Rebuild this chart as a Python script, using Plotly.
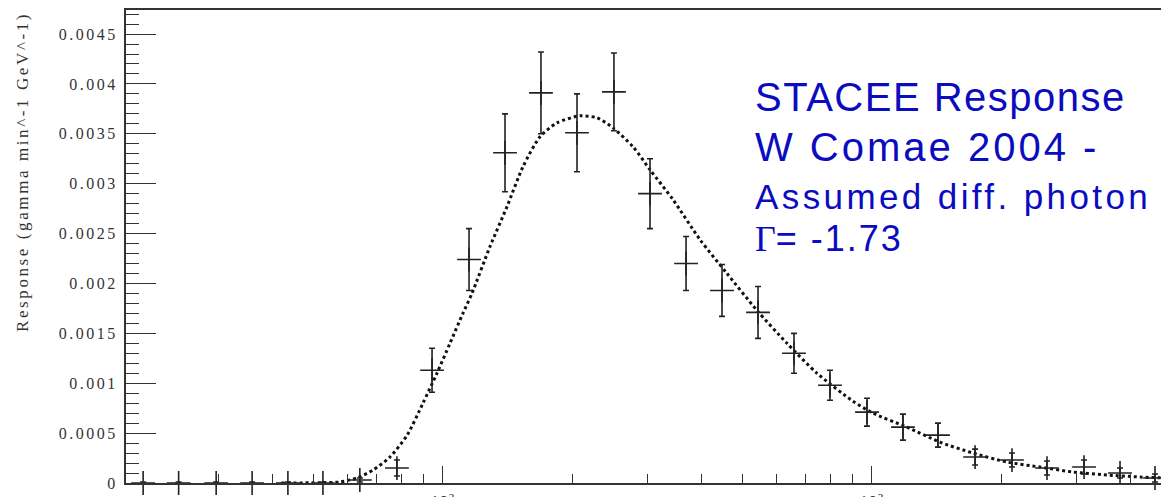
import plotly.graph_objects as go

# Binned response (events per minute per GeV) with statistical errors
energy_gev = [20.0, 24.2, 29.6, 35.9, 43.5, 52.5, 64.0, 78.1, 94.3, 115.0,
              139.5, 169.2, 205.3, 250.3, 303.8, 368.6, 447.1, 542.4, 658.0,
              798.1, 973.5, 1181, 1425, 1739, 2120, 2558, 3121, 3786, 4568]
response = [0.0, 0.0, 0.0, 0.0, 0.0, 0.0, 0.00003, 0.00015, 0.00113, 0.00224,
            0.00331, 0.00391, 0.00351, 0.00392, 0.00290, 0.00220, 0.00193,
            0.00171, 0.00130, 0.00098, 0.00071, 0.00056, 0.00048, 0.00026,
            0.00023, 0.00015, 0.00016, 0.00010, 0.00005]
response_err = [0.00001, 0.00001, 0.00001, 0.00001, 0.00001, 0.00001, 0.00002,
                 0.00008, 0.00022, 0.00031, 0.00039, 0.00041, 0.00039, 0.00039,
                 0.00035, 0.00027, 0.00026, 0.00026, 0.00020, 0.00015, 0.00014,
                 0.00013, 0.00012, 0.00008, 0.00007, 0.00007, 0.00007, 0.00005,
                 0.00004]

# Fitted response curve
fit_energy_gev = [42.0, 51.7, 57.5, 63.0, 68.7, 75.2, 82.5, 89.8, 96.8, 103.8,
                  111.3, 116.8, 128.7, 141.0, 153.6, 168.3, 184.4, 208.6, 228.6,
                  249.0, 277.3, 303.8, 343.7, 397.2, 459.2, 539.4, 633.8, 744.5,
                  903.0, 1005, 1206, 1440, 1720, 2064, 2464, 2941, 3530, 4214,
                  4820]
fit_response = [0.0, 0.000003, 0.00001, 0.00005, 0.00013, 0.00026, 0.00048,
                0.0008, 0.0011, 0.0014, 0.0017, 0.0019, 0.00237, 0.00277,
                0.00317, 0.00347, 0.00361, 0.00368, 0.00366, 0.00356, 0.00337,
                0.00314, 0.00284, 0.00244, 0.00210, 0.00173, 0.00140, 0.00110,
                0.00082, 0.00070, 0.00056, 0.00041, 0.00030, 0.00021, 0.00016,
                0.00011, 0.00008, 0.00006, 0.00005]

y_tick_values = [0, 0.0005, 0.001, 0.0015, 0.002, 0.0025, 0.003, 0.0035, 0.004, 0.0045]
y_tick_labels = ["0", "0.0005", "0.001", "0.0015", "0.002", "0.0025", "0.003",
                 "0.0035", "0.004", "0.0045"]
x_tick_values = [100, 1000]
x_tick_labels = ["10<sup>2</sup>", "10<sup>3</sup>"]

y_title = "Response (gamma min^-1 GeV^-1)"
note_lines = ["STACEE Response", "W Comae 2004 -", "Assumed diff. photon", "= -1.73"]

INK = "#222222"
BLUE = "#0b0bbf"
SERIF = "Liberation Serif, Times New Roman, serif"
SANS = "Liberation Sans, Arial, sans-serif"

x_minor = [m * 10 ** k for k in (1, 2, 3) for m in range(2, 10)]


def spaced(text, px):
    return f'<span style="letter-spacing:{px}px">{text}</span>'


fig = go.Figure()

fig.add_trace(go.Scatter(
    x=fit_energy_gev, y=fit_response, mode="lines",
    line=dict(color="#111111", width=3, dash="3px,3px", shape="spline", smoothing=0.7),
    hoverinfo="skip", cliponaxis=True,
))

fig.add_trace(go.Scatter(
    x=energy_gev, y=response, mode="markers",
    marker=dict(symbol="cross-thin", size=17, line=dict(color=INK, width=1.6), color=INK),
    error_y=dict(type="data", array=response_err, visible=True,
                 color=INK, thickness=1.6, width=3),
    cliponaxis=False,
))

fig.update_layout(
    width=1161, height=497,
    margin=dict(l=126, r=0, t=10, b=14, pad=0),
    paper_bgcolor="white", plot_bgcolor="white",
    showlegend=False,
    font=dict(family=SERIF, color=INK),
)

fig.update_xaxes(
    type="log", range=[1.2611, 3.6737],
    showgrid=False, zeroline=False,
    showline=True, linecolor="#333333", linewidth=2.4, mirror=True,
    ticks="inside", ticklen=17, tickwidth=1.4, tickcolor="#333333",
    tickmode="array", tickvals=x_tick_values,
    ticktext=[spaced(t, 1) for t in x_tick_labels],
    tickfont=dict(family=SERIF, size=16, color=INK),
    ticklabelstandoff=3,
    minor=dict(tickmode="array", tickvals=x_minor, ticks="inside",
               ticklen=9, tickwidth=1.2, tickcolor="#333333"),
    automargin=False,
)

fig.update_yaxes(
    range=[0, 0.004741],
    showgrid=False, zeroline=False,
    showline=True, linecolor="#333333", linewidth=2, mirror=False,
    ticks="inside", ticklen=30, tickwidth=1.4, tickcolor="#333333",
    tickmode="array", tickvals=y_tick_values,
    ticktext=[spaced(t, 2.5) for t in y_tick_labels],
    tickfont=dict(family=SERIF, size=16, color="#333333"),
    ticklabelstandoff=3,
    minor=dict(dtick=0.0001, tick0=0, ticks="inside", ticklen=13,
               tickwidth=1.2, tickcolor="#333333"),
    automargin=False,
)

# Rotated axis title, aligned to the top of the axis
fig.add_annotation(
    text=spaced(y_title, 2.6), textangle=-90,
    xref="paper", yref="paper",
    x=(22 - 126) / 1035, y=1.0, xanchor="center", yanchor="top",
    showarrow=False, font=dict(family=SERIF, size=17, color="#333333"),
)

# Blue caption block
caption_rows = [
    (spaced(note_lines[0], 1.5), 40, 97),
    (spaced(note_lines[1], 3), 40, 147),
    (spaced(note_lines[2], 3.4), 35, 196),
    ('<span style="font-family:\'Liberation Serif\'">Γ</span>' + spaced(note_lines[3], 2), 36, 238),
]
for text, size, y_px in caption_rows:
    fig.add_annotation(
        text=text, xref="paper", yref="paper",
        x=(753 - 126) / 1035, y=(483 - y_px) / 473,
        xanchor="left", yanchor="middle", showarrow=False,
        font=dict(family=SANS, size=size, color=BLUE),
    )

fig.write_html("out.html")
